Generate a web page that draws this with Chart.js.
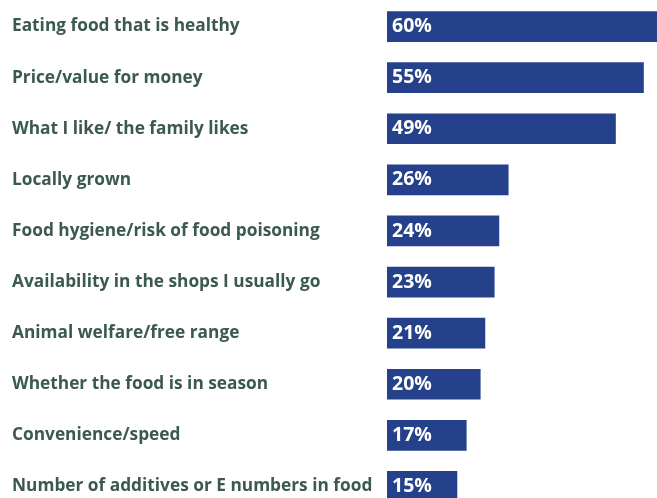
<!DOCTYPE html>
<html>
<head>
<meta charset="utf-8">
<script src="https://cdn.jsdelivr.net/npm/chart.js@4"></script>
<style>
  html, body { margin: 0; padding: 0; background: #fff; overflow: hidden; }
  #wrap { position: relative; width: 657px; height: 512px; }
</style>
</head>
<body>
<div id="wrap"><canvas id="foodChart"></canvas></div>
<script>
const categories = [
    'Eating food that is healthy',
    'Price/value for money',
    'What I like/ the family likes',
    'Locally grown',
    'Food hygiene/risk of food poisoning',
    'Availability in the shops I usually go',
    'Animal welfare/free range',
    'Whether the food is in season',
    'Convenience/speed',
    'Number of additives or E numbers in food'
];
const shares = [60, 55, 49, 26, 24, 23, 21, 20, 17, 15];

// white % labels at the start of each bar
const valueLabels = {
    id: 'valueLabels',
    afterDatasetsDraw(chart) {
        const ctx = chart.ctx;
        const meta = chart.getDatasetMeta(0);
        ctx.save();
        ctx.fillStyle = '#ffffff';
        ctx.font = 'bold 19.5px "Open Sans", sans-serif';
        ctx.textAlign = 'left';
        ctx.textBaseline = 'middle';
        meta.data.forEach((bar, i) => {
            ctx.fillText(shares[i] + '%', bar.base + 5, bar.y);
        });
        ctx.restore();
    }
};

const ctx = document.getElementById('foodChart').getContext('2d');

new Chart(ctx, {
    type: 'bar',
    data: {
        labels: categories,
        datasets: [{
            data: shares,
            backgroundColor: '#26418c',
            barThickness: 30
        }]
    },
    options: {
        indexAxis: 'y',
        responsive: true,
        maintainAspectRatio: false,
        animation: false,
        layout: { padding: { left: 12, right: 0, top: 1, bottom: 0 } },
        plugins: {
            legend: { display: false },
            tooltip: { enabled: false }
        },
        scales: {
            x: {
                display: false,
                min: 0,
                max: 57.9
            },
            y: {
                grid: { display: false },
                border: { display: false },
                ticks: {
                    crossAlign: 'far',
                    color: '#3b5a4d',
                    font: { family: 'Open Sans', weight: 'bold', size: 17.3 }
                },
                afterFit(scale) {
                    scale.width = 375;
                    scale.paddingTop = 0;
                    scale.paddingBottom = 0;
                }
            }
        }
    },
    plugins: [valueLabels]
});
</script>
</body>
</html>
